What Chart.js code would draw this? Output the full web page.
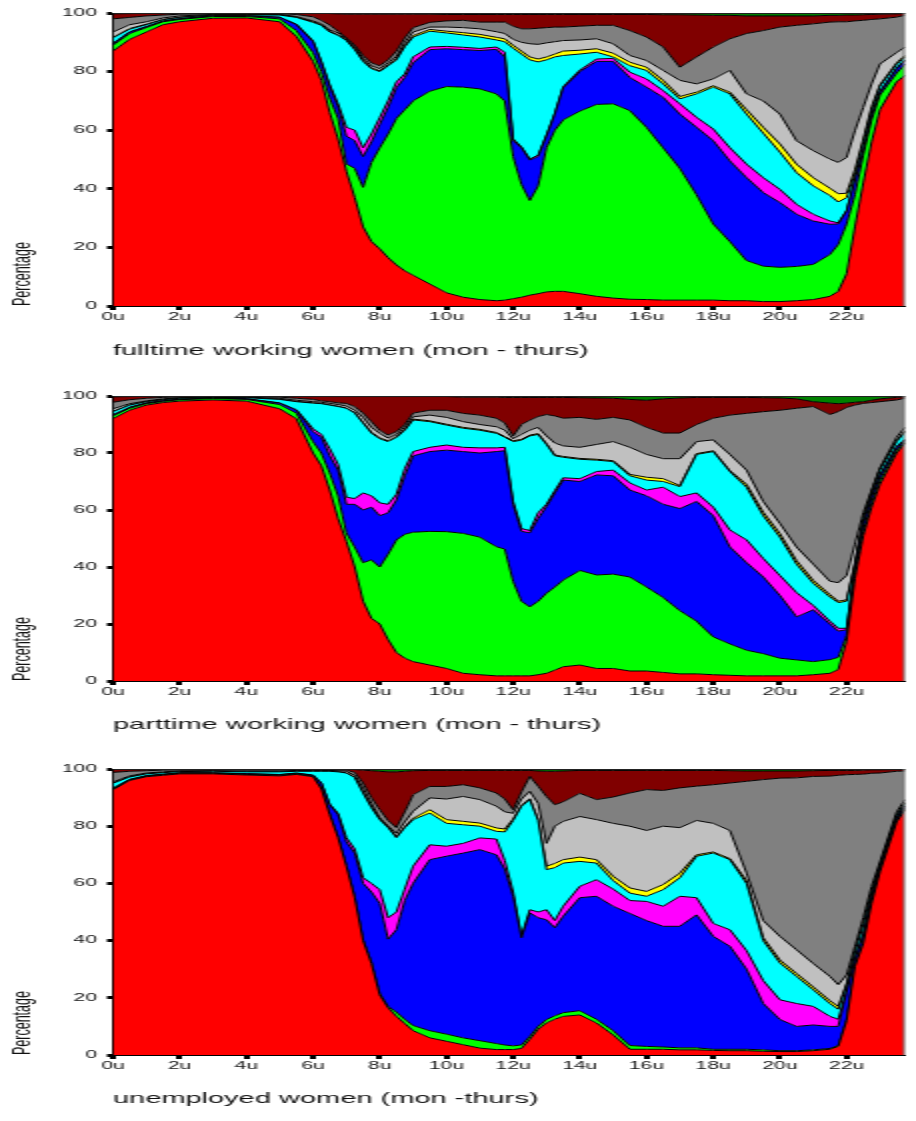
<!DOCTYPE html>
<html>
<head>
<meta charset="utf-8">
<script src="https://cdn.jsdelivr.net/npm/chart.js@4.4.1/dist/chart.umd.min.js"></script>
<style>
  body { margin: 0; background: #fff; }
  #wrap { position: relative; width: 916px; height: 1121px; overflow: hidden; }
  canvas { position: absolute; left: 0; }
</style>
</head>
<body>
<div id="wrap">
  <canvas id="c1"></canvas>
  <canvas id="c2"></canvas>
  <canvas id="c3"></canvas>
</div>
<script>
// time of day (hours); values below are the upper edge of each stacked layer, in percent
const hours = [0, 0.5, 1, 1.5, 2, 3, 4, 5, 5.5,
  6, 6.25, 6.5, 6.75, 7, 7.25, 7.5, 7.75,
  8, 8.25, 8.5, 8.75, 9, 9.5, 10, 10.5, 11, 11.5, 11.75,
  12, 12.25, 12.5, 12.75, 13, 13.25, 13.5, 14, 14.5, 15,
  15.5, 16, 16.5, 17, 17.5, 18, 18.5, 19, 19.5, 20,
  20.5, 21, 21.5, 21.75, 22, 22.25, 22.5, 22.75, 23, 23.5, 23.75];

const yTicks = [0, 20, 40, 60, 80, 100];
const xTickStep = 2;

// fulltime working women
const ftRed = [87, 91, 93.5, 96, 97, 98.2, 98.3, 97, 92,
  83.5, 77, 66, 57, 46, 37, 27, 22,
  19.5, 16.5, 14, 12, 10.5, 7.5, 4.5, 3, 2.2, 1.8, 2,
  2.5, 3, 3.7, 4.2, 4.8, 5, 5, 4.2, 3.3, 2.7,
  2.3, 2.2, 2, 2, 2, 2, 1.8, 1.8, 1.5, 1.5,
  1.8, 2.2, 3.3, 5, 11, 27, 42, 56, 67, 76.5, 78.7];
const ftGreen = [89, 93, 95, 97, 97.8, 98.8, 98.8, 98, 94,
  86.5, 80, 71, 64, 48.5, 47, 40.5, 49,
  54, 58.7, 64, 67, 70, 73.3, 74.9, 74.7, 74.1, 72.4, 70,
  51, 41.5, 36, 41, 54, 60, 63.5, 66.5, 68.8, 69,
  66.7, 61, 54, 47, 38, 28, 22, 15.5, 13.6, 13.2,
  13.5, 14.2, 17.6, 21, 28, 38, 51.5, 63.5, 72, 79.5, 82.6];
const ftBlue = [89.5, 93.5, 95.3, 97.2, 98, 99, 99, 98.5, 96,
  90.2, 83, 75, 68, 58, 56.4, 51, 56,
  62, 67.8, 74.5, 78, 83, 87.5, 87.8, 87.5, 87.2, 87.6, 85,
  56.5, 54, 49.8, 51, 58, 65.5, 74.5, 80, 83.5, 83.5,
  78, 74.7, 71.2, 65.5, 61, 56.4, 49.5, 43.8, 38.7, 35.3,
  31.3, 29, 27.9, 28, 32.4, 43, 53, 65, 73, 81, 83.8];
const ftMagenta = [89.6, 93.6, 95.4, 97.3, 98.1, 99.1, 99.1, 98.6, 96.2,
  90.5, 83.5, 75.5, 69, 61, 60, 54, 58.7,
  64.3, 70, 76.5, 79.2, 85, 88.4, 88.6, 88.3, 87.9, 88.4, 86.6,
  57, 54.3, 50.2, 51.5, 58.4, 65.8, 74.8, 80.5, 84.3, 84.5,
  79.8, 77.5, 73.5, 69, 64.4, 60.4, 54, 48.4, 43.8, 39.8,
  34.7, 31.3, 29, 28.4, 32.6, 43.2, 53.2, 65.2, 73.2, 81.2, 84];
const ftCyan = [91.5, 94.5, 96, 97.7, 98.5, 99.3, 99.3, 99.3, 98.5,
  96.8, 95.8, 93.5, 92.4, 90.6, 87.5, 83.5, 81,
  80, 82, 84, 88.5, 91.8, 93.8, 93.2, 92.5, 91.8, 90.8, 90.2,
  88, 86, 84, 83.3, 84, 85, 85.5, 86, 86.6, 85,
  82, 80.4, 75.8, 70.7, 72.4, 74.7, 72.4, 65.5, 59, 52.5,
  45.5, 41, 37.7, 35.5, 37, 45, 56, 67, 75, 82.5, 85];
const ftYellow = [91.7, 94.7, 96.2, 97.8, 98.6, 99.4, 99.4, 99.4, 98.6,
  97, 96, 93.7, 92.6, 90.8, 87.8, 83.8, 81.3,
  80.3, 82.3, 84.4, 88.9, 92.3, 94.4, 93.8, 93.3, 92.7, 91.7, 91.2,
  89, 87, 85, 84.3, 85, 86, 87, 87.3, 87.8, 86.3,
  83.2, 81.5, 77, 71.5, 73, 75.2, 73, 67, 61, 55.3,
  48.4, 43.8, 40.2, 38.3, 38.5, 46.5, 57, 68, 75.5, 83, 85.5];
const ftSilver = [93.5, 96, 97, 98.3, 99, 99.5, 99.5, 99.5, 98.8,
  97.3, 96.3, 94.2, 93.2, 91.2, 88.5, 84.5, 82,
  81, 83, 85.2, 90, 93.5, 95.2, 95.2, 95, 94.6, 93.6, 93,
  91, 90, 89.5, 89.3, 89.8, 90.2, 90.6, 90.8, 91.2, 89.5,
  85.5, 83.8, 80.4, 77, 75.8, 77.5, 80.4, 72.4, 70, 65.5,
  56.4, 53, 50.1, 49, 50.7, 59.8, 67.8, 75.8, 82.6, 86.5, 88.4];
const ftGray = [98, 98.5, 99, 99.3, 99.6, 99.7, 99.7, 99.7, 99.5,
  98.7, 97.5, 95.9, 93.8, 91.5, 89, 85.5, 83,
  82, 84, 87, 91.5, 95, 96.8, 97.3, 97.5, 96.9, 96.9, 96.9,
  95.5, 94.6, 94.6, 94.8, 95, 95.2, 95.2, 95.5, 95.8, 95.8,
  94, 91.8, 88.4, 81.5, 85, 88.4, 91.2, 93, 94, 95.2,
  95.8, 96.3, 96.9, 97, 97, 97.3, 97.5, 97.8, 98, 98.6, 99.2];
const ftMaroon = [99.7, 99.8, 99.9, 100, 100, 100, 100, 100, 100,
  100, 100, 99.8, 99.7, 99.6, 99.6, 99.6, 99.6,
  99.6, 99.6, 99.6, 99.6, 99.6, 99.6, 99.5, 99.5, 99.5, 99.5, 99.5,
  99.5, 99.5, 99.5, 99.5, 99.5, 99.5, 99.5, 99.5, 99.5, 99.5,
  99.5, 99.5, 99.4, 99.4, 99.3, 99.2, 99.2, 99, 99, 99,
  99, 99, 99.2, 99.2, 99.3, 99.3, 99.4, 99.5, 99.6, 99.7, 99.8];

// parttime working women
const ptRed = [92, 95, 96.8, 97.7, 98.2, 98.6, 98.2, 95.5, 92,
  80, 75.5, 67, 57, 49, 40, 28, 22,
  20, 14.5, 10, 8, 6.8, 5.6, 4.4, 2.7, 2.2, 1.8, 1.8,
  1.8, 1.8, 1.8, 2.2, 2.7, 3.8, 5, 5.6, 4.4, 4.4,
  3.5, 3.5, 3, 2.5, 2.5, 2.2, 2, 1.8, 1.8, 1.8,
  1.8, 2.2, 2.7, 4, 14, 36, 51, 61, 69, 80, 83.5];
const ptGreen = [93, 95.7, 97.3, 98.1, 98.7, 99.1, 98.8, 97, 94,
  84, 80, 73, 65, 52, 47, 41.5, 42.5,
  40, 44.5, 49.5, 51.5, 52.2, 52.5, 52.4, 51.8, 50.5, 47.1, 46.3,
  35, 28, 26, 28, 30.8, 33, 35.4, 38.8, 37.2, 37.5,
  36.5, 33, 29.3, 24.7, 21, 15.5, 13, 10.8, 9.6, 8,
  7.4, 6.8, 7.5, 8.3, 16, 38, 52.5, 62.5, 70.5, 81, 84];
const ptBlue = [93.3, 96, 97.5, 98.3, 98.8, 99.2, 99, 97.5, 95,
  87.5, 85.5, 79, 74, 62, 62, 60, 61,
  58, 59, 63.5, 72, 79, 80.5, 81, 80.5, 80, 80.5, 80.8,
  62, 52.5, 52, 57, 61.2, 66, 70.5, 70, 72.3, 72,
  67, 65, 62, 60.5, 63, 58, 47, 41.5, 36.5, 30,
  22.5, 25, 20, 17.5, 18, 40, 55, 64.5, 72, 82, 84.5];
const ptMagenta = [93.4, 96.1, 97.6, 98.4, 98.9, 99.3, 99.1, 97.6, 95.2,
  88.5, 86.5, 81.5, 76, 64.5, 64, 66, 65,
  62.5, 62, 65.5, 74.5, 80.5, 82, 82.8, 82, 81.8, 81.8, 82,
  63, 53.5, 52.8, 59, 62, 66.8, 71.3, 71, 73.5, 74,
  69.5, 67, 68, 64.7, 66, 61, 53, 49.5, 43, 37,
  31, 26.5, 21, 18.5, 18.5, 40.3, 55.3, 64.8, 72.3, 82.3, 84.8];
const ptCyan = [94.5, 96.8, 98, 98.7, 99.2, 99.5, 99.4, 98.8, 98,
  97.5, 97.3, 96.8, 96.3, 95.7, 94, 90.5, 87,
  85, 84, 85.5, 88, 91.6, 91, 89.8, 88.7, 88, 86.9, 85.5,
  84, 84.5, 86, 86.5, 83, 79, 78.5, 77.8, 77.5, 77,
  72, 70.5, 70, 68.2, 79.5, 80.5, 73.5, 68, 58, 50.5,
  41, 34.3, 29.5, 27.5, 28, 41, 57, 66, 74, 84, 87.5];
const ptYellow = [94.6, 96.9, 98.1, 98.8, 99.3, 99.6, 99.5, 98.9, 98.1,
  97.6, 97.4, 96.9, 96.4, 95.8, 94.2, 90.7, 87.3,
  85.3, 84.3, 85.8, 88.3, 91.9, 91.3, 90.1, 89, 88.3, 87.2, 85.8,
  84.3, 84.8, 86.3, 86.8, 83.3, 79.3, 78.8, 78.1, 77.8, 77.3,
  72.5, 71.5, 71, 68.6, 79.8, 80.8, 73.8, 69, 59.2, 51.7,
  42.2, 35.3, 30.3, 28, 28.5, 41.5, 57.5, 66.5, 74.5, 84.4, 87.8];
const ptSilver = [95.5, 97.3, 98.3, 99, 99.4, 99.7, 99.6, 99.2, 98.5,
  98, 97.8, 97.4, 97, 96.5, 95, 92.5, 89,
  86.9, 85.2, 86.5, 89.2, 92.7, 93.3, 92.5, 91, 90, 89.2, 88,
  85, 86.5, 88, 89, 86, 83.5, 82.5, 82, 83, 84,
  82, 79.5, 78, 78, 84, 84.6, 79.5, 74, 63, 55.3,
  47, 41, 35, 34.5, 37, 48, 59, 67, 74.8, 85.5, 89];
const ptGray = [97.8, 98.7, 99.2, 99.5, 99.7, 99.8, 99.8, 99.6, 99.2,
  98.8, 98.3, 98, 97.6, 97.4, 96.3, 94, 91,
  88, 86.3, 87.5, 90, 94, 95, 95, 93.9, 93.3, 92.2, 90.5,
  86, 90, 91.5, 92.8, 93.5, 93, 92.2, 92.5, 91.8, 92.5,
  91.6, 89, 87, 87, 90, 92.2, 93.3, 93.9, 94.5, 95,
  95.7, 96.3, 93.5, 94.5, 96, 96.8, 97.4, 97.7, 98, 98.6, 99.2];
const ptMaroon = [99.7, 99.8, 99.9, 100, 100, 100, 100, 100, 100,
  100, 100, 99.8, 99.8, 99.8, 99.8, 99.8, 99.8,
  99.8, 99.8, 99.8, 99.8, 99.8, 99.8, 99.8, 99.6, 99.6, 99.6, 99.5,
  99.5, 99.5, 99.5, 99.5, 99.5, 99.5, 99.5, 99.4, 99.3, 99.2,
  98.8, 98.5, 99, 99.3, 99.5, 99.5, 99.5, 99.5, 99.4, 99.3,
  99, 98, 97.5, 97.3, 97.5, 97.8, 98, 98.5, 99, 99.5, 99.7];

// unemployed women
const ueRed = [92.7, 96, 97.3, 97.8, 98.3, 98.3, 97.9, 97.6, 98.1,
  97.3, 93, 84, 76, 66, 55, 40, 32,
  21, 16.5, 13.5, 11, 8.5, 6, 4.8, 3.6, 2.4, 1.9, 1.9,
  1.9, 2.3, 5.5, 9, 11.2, 12.5, 13.5, 14, 11.2, 7,
  2, 2, 2, 1.8, 1.8, 1.6, 1.5, 1.5, 1.3, 1.2,
  1.2, 1.5, 2, 3, 12, 31, 39, 53, 64, 81.5, 85.8];
const ueGreen = [93, 96.2, 97.5, 98, 98.5, 98.5, 98.1, 97.8, 98.3,
  97.5, 93.3, 84.3, 76.3, 66.3, 55.3, 40.3, 32.5,
  21.5, 17, 15, 12.5, 10.3, 8.5, 7.3, 6, 5, 4, 3.5,
  3.2, 3.5, 6.5, 10, 12.4, 13.7, 14.8, 15.5, 12.5, 8.5,
  3.3, 3, 2.8, 2.5, 2.5, 2, 2, 2, 1.8, 1.5,
  1.5, 1.8, 2.3, 3.3, 12.5, 31.3, 39.4, 53.5, 64.5, 82, 86.3];
const ueBlue = [93.2, 96.3, 97.6, 98.1, 98.6, 98.6, 98.3, 98, 98.5,
  97.8, 95, 87.5, 84, 74.5, 70.6, 60, 57,
  53, 40.5, 43.8, 54, 60, 68.3, 69.5, 70.6, 71.8, 70, 65,
  55.5, 41, 49.7, 48, 47.3, 44.5, 48.5, 55, 55.5, 52,
  49.5, 47, 45, 45, 49, 41.5, 38, 30, 18, 12.4,
  10, 10.5, 10, 10, 22, 33.5, 42, 55, 65.3, 82.8, 87];
const ueMagenta = [93.3, 96.4, 97.7, 98.2, 98.7, 98.7, 98.4, 98.1, 98.6,
  97.9, 95.1, 87.7, 84.5, 76, 72, 62, 60,
  57.8, 48, 50, 58, 66, 73.5, 73, 74, 75.9, 75.5, 68,
  57, 41.5, 50.8, 50, 50.8, 47, 52, 59, 61.3, 58,
  54, 53.7, 52, 55.5, 55, 46, 43.8, 36.5, 26, 19.3,
  18, 17, 13.5, 12.5, 22.5, 33.8, 42.4, 55.3, 65.5, 83, 87.2];
const ueCyan = [95, 97.2, 98.3, 98.7, 99.1, 99.2, 99, 99, 99.2,
  99.2, 99.2, 99.2, 99, 98.6, 97, 91.6, 86.5,
  82.3, 79.5, 76, 79.5, 82.3, 84.6, 81, 80.5, 80, 78.2, 78,
  82, 87, 89.3, 82, 64.8, 65.5, 67.1, 67.7, 67.1, 61,
  56.6, 55.5, 57.8, 62, 69.5, 70.6, 68.3, 60, 40, 32.2,
  27.5, 22.8, 18, 16, 24.5, 36, 45.5, 57, 66.3, 83.8, 88];
const ueYellow = [95.1, 97.3, 98.4, 98.8, 99.2, 99.3, 99.1, 99.1, 99.3,
  99.3, 99.3, 99.3, 99.1, 98.7, 97.2, 91.9, 86.8,
  82.6, 79.8, 76.3, 79.8, 82.8, 85.8, 82.3, 81.7, 81.1, 79.4, 79,
  82.5, 87.3, 89.6, 82.3, 66, 67, 68.3, 69.2, 68.3, 62.5,
  58.4, 57.2, 59.6, 63.6, 70, 71, 68.7, 61, 41, 33.2,
  28.5, 23.8, 19, 17, 25, 36.5, 46, 57.4, 66.6, 84, 88.3];
const ueSilver = [95.5, 97.6, 98.6, 99, 99.3, 99.4, 99.3, 99.3, 99.5,
  99.5, 99.5, 99.5, 99.4, 99.2, 97.8, 93.4, 88,
  82.9, 80, 77.5, 81.5, 85.2, 89.9, 89.5, 90.4, 89.3, 87, 85,
  84.5, 89.5, 92.2, 88, 74, 80, 81.7, 83.4, 82.3, 81,
  80, 78.5, 80, 79.5, 82, 81, 78.5, 63.6, 47, 41.5,
  36.8, 32, 27.5, 24.6, 28, 38, 48, 59, 67.5, 85, 89.3];
const ueGray = [98.8, 99.2, 99.4, 99.6, 99.7, 99.8, 99.7, 99.7, 99.8,
  99.8, 99.8, 99.8, 99.7, 99.6, 98.8, 95.1, 90,
  85.8, 82, 79.5, 85, 91, 93.9, 93.9, 94.5, 93.4, 91.6, 89.5,
  85.8, 92, 97.4, 94, 90.4, 87.5, 88.5, 91.5, 89.3, 90.2,
  91.6, 92.8, 92.5, 93.4, 94, 94.5, 95.1, 95.7, 96.3, 96.8,
  96.9, 97.4, 97.5, 97.8, 98, 98.1, 98.2, 98.5, 98.6, 99.2, 99.3];
const ueMaroon = [99.8, 99.9, 100, 100, 100, 100, 100, 100, 100,
  100, 100, 100, 100, 100, 99.8, 99.6, 99.4,
  99.2, 99, 99, 99.2, 99.4, 99.5, 99.5, 99.5, 99.5, 99.5, 99.5,
  99.5, 99.5, 99.5, 99.3, 99.2, 99.2, 99.3, 99.5, 99.5, 99.5,
  99.5, 99.5, 99.5, 99.5, 99.5, 99.5, 99.4, 99.3, 99.3, 99.3,
  99.3, 99.4, 99.5, 99.5, 99.5, 99.5, 99.6, 99.7, 99.7, 99.8, 99.8];

const layerColors = ['#ff0000', '#00ff00', '#0000ff', '#ff00ff', '#00ffff',
  '#ffff00', '#c0c0c0', '#808080', '#800000'];
const topColor = '#008000';

// the source picture is stretched sideways, so each canvas is drawn at half width and scaled up
const STRETCH = 2;
const FULL_W = 916;
const INNER_W = FULL_W / STRETCH;
const PLOT_LEFT = 113 / STRETCH;
const PLOT_RIGHT = 905 / STRETCH;

const panels = [
  {id: 'c1', top: 0, height: 372, plotTop: 13, plotBottom: 306,
   title: 'fulltime working women (mon - thurs)',
   layers: [ftRed, ftGreen, ftBlue, ftMagenta, ftCyan, ftYellow, ftSilver, ftGray, ftMaroon]},
  {id: 'c2', top: 372, height: 374, plotTop: 24, plotBottom: 309,
   title: 'parttime working women (mon - thurs)',
   layers: [ptRed, ptGreen, ptBlue, ptMagenta, ptCyan, ptYellow, ptSilver, ptGray, ptMaroon]},
  {id: 'c3', top: 746, height: 374, plotTop: 23, plotBottom: 309,
   title: 'unemployed women (mon -thurs)',
   layers: [ueRed, ueGreen, ueBlue, ueMagenta, ueCyan, ueYellow, ueSilver, ueGray, ueMaroon]}
];

Chart.defaults.font.family = '"Liberation Sans", Arial, sans-serif';
Chart.defaults.color = '#111';

const frame = {
  id: 'frame',
  afterDatasetsDraw(chart) {
    const {ctx, chartArea: a} = chart;
    ctx.save();
    ctx.lineWidth = 1;
    ctx.strokeStyle = '#222';
    ctx.beginPath();
    ctx.moveTo(a.left, a.top + 0.5);
    ctx.lineTo(a.right, a.top + 0.5);
    ctx.stroke();
    ctx.strokeStyle = '#777';
    ctx.beginPath();
    ctx.moveTo(a.right - 0.5, a.top);
    ctx.lineTo(a.right - 0.5, a.bottom);
    ctx.stroke();
    ctx.restore();
  }
};

function toPoints(values) {
  return values.map((v, i) => ({x: hours[i], y: v}));
}

function buildDatasets(layers) {
  const sets = layers.map((values, i) => ({
    data: toPoints(values),
    backgroundColor: layerColors[i],
    borderColor: '#000',
    borderWidth: 1,
    fill: i === 0 ? 'origin' : '-1',
    pointRadius: 0,
    tension: 0
  }));
  // thin dark green band between the maroon layer and the 100% line
  sets.push({
    data: toPoints(layers[layers.length - 1]),
    backgroundColor: topColor,
    borderWidth: 0,
    fill: 'end',
    pointRadius: 0
  });
  return sets;
}

panels.forEach(p => {
  const canvas = document.getElementById(p.id);
  canvas.width = INNER_W;
  canvas.height = p.height;
  canvas.style.width = FULL_W + 'px';
  canvas.style.height = p.height + 'px';
  canvas.style.top = p.top + 'px';

  const titleSize = 14.5;
  const titleGap = 21;

  new Chart(canvas, {
    type: 'line',
    data: {datasets: buildDatasets(p.layers)},
    options: {
      responsive: false,
      devicePixelRatio: 1,
      animation: false,
      layout: {padding: {top: p.plotTop, right: INNER_W - PLOT_RIGHT, left: 0, bottom: 0}},
      plugins: {legend: {display: false}, tooltip: {enabled: false}},
      scales: {
        x: {
          type: 'linear',
          min: 0,
          max: hours[hours.length - 1],
          z: 1,
          grid: {display: true, drawOnChartArea: false, drawTicks: true,
                 tickLength: 4, tickWidth: 3, tickColor: '#000'},
          border: {display: true, color: '#000', width: 1},
          ticks: {stepSize: xTickStep, includeBounds: false, autoSkip: false,
                  maxRotation: 0, padding: 1, font: {size: 10.5},
                  callback: v => v + 'u'},
          title: {display: true, text: p.title, align: 'start',
                  font: {size: titleSize},
                  padding: {top: 0, bottom: titleGap - titleSize * 0.6}},
          afterFit: s => { s.height = p.height - p.plotBottom; }
        },
        y: {
          min: yTicks[0],
          max: yTicks[yTicks.length - 1],
          z: 1,
          afterBuildTicks: s => { s.ticks = yTicks.map(v => ({value: v})); },
          grid: {display: true, drawOnChartArea: false, drawTicks: true,
                 tickLength: 3, tickWidth: 3, tickColor: '#000'},
          border: {display: true, color: '#000', width: 1},
          ticks: {padding: 5, font: {size: 10.5}},
          title: {display: true, text: 'Percentage', align: 'start',
                  font: {size: 12.5}, padding: {top: 4, bottom: 0}},
          afterFit: s => { s.width = PLOT_LEFT; }
        }
      }
    },
    plugins: [frame]
  });
});
</script>
</body>
</html>
